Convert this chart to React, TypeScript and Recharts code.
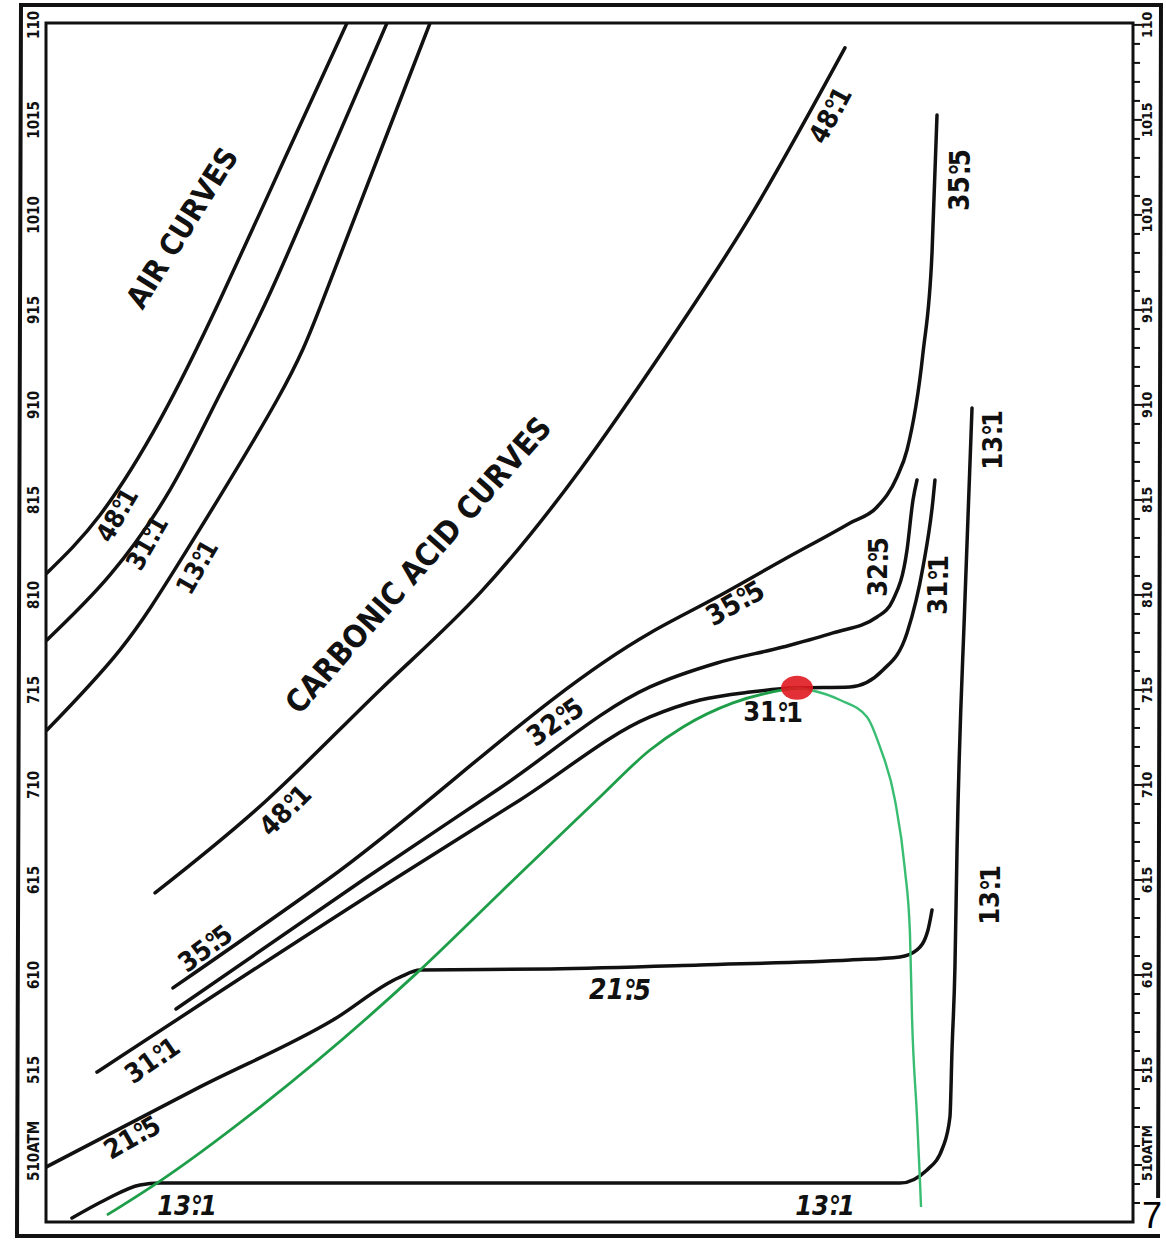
import { LineChart, Line, XAxis, YAxis, ReferenceArea, ReferenceDot } from 'recharts';

type Pt = [number, number];

// volume (arbitrary 0-100 across the frame) vs pressure in atmospheres
const air48_1: Pt[] = [[0.09, 81.16], [4.97, 84.21], [10.49, 89.21], [16.01, 95.53], [21.9, 102.89], [27.69, 110.1]];
const air31_1: Pt[] = [[0.09, 77.63], [5.89, 81.05], [11.41, 85.53], [15.73, 90.26], [20.33, 95.53], [25.85, 102.79], [31.37, 110.1]];
const air13_1: Pt[] = [[0.09, 72.89], [6.81, 77.11], [12.97, 82.37], [21.25, 90.26], [25.48, 95.53], [30.45, 102.89], [35.33, 110.1]];

const co2_48_1: Pt[] = [[10.03, 64.32], [20.33, 69.21], [30.73, 75.0], [39.93, 80.11], [49.13, 86.58], [57.13, 93.16], [65.04, 100.16], [73.5, 108.79]];
const co2_35_5: Pt[] = [[11.68, 59.32], [25.85, 65.0], [55.57, 78.0], [61.73, 79.89], [67.8, 81.84], [73.97, 83.79], [76.45, 84.63], [78.29, 86.21], [79.21, 87.63], [80.68, 92.74], [81.51, 98.0], [81.97, 105.26]];
const co2_32_5: Pt[] = [[11.96, 58.21], [29.16, 65.0], [41.77, 69.84], [55.57, 75.16], [61.73, 76.42], [67.8, 77.26], [72.4, 78.0], [76.45, 78.84], [77.92, 79.74], [79.21, 82.37], [79.76, 85.0], [80.13, 86.05]];
const co2_31_1: Pt[] = [[4.69, 54.89], [31.92, 65.0], [43.61, 69.21], [55.57, 73.58], [60.17, 74.47], [64.77, 74.89], [69.09, 75.11], [73.97, 75.16], [77.0, 76.05], [79.21, 78.0], [80.68, 81.47], [81.6, 85.0], [81.78, 86.05]];
const co2_21_5: Pt[] = [[0, 49.89], [14.17, 54.11], [26.4, 57.63], [32.57, 59.89], [34.41, 60.26], [46.37, 60.32], [60.17, 60.53], [73.97, 60.79], [78.56, 60.95], [80.13, 61.32], [81.14, 62.37], [81.51, 63.42]];
const co2_13_1: Pt[] = [[2.39, 47.21], [5.43, 48.16], [8.65, 48.95], [10.49, 49.05], [41.77, 49.05], [78.56, 49.05], [81.05, 49.74], [82.52, 50.95], [83.16, 52.53], [83.35, 56.05], [83.62, 60.42], [83.81, 66.58], [84.54, 79.74], [85.19, 89.84]];

// green saturation dome drawn in by hand
const domeLeft: Pt[] = [[5.61, 47.37], [10.21, 49.05], [19.69, 53.05], [34.13, 60.11], [41.77, 64.32], [50.97, 69.37], [55.57, 71.84], [58.6, 73.05], [63.2, 74.32], [67.8, 75.0], [69.09, 75.11]];
const domeRight: Pt[] = [[69.09, 75.11], [70.29, 75.0], [73.05, 74.47], [75.53, 73.58], [76.72, 72.0], [78.1, 69.21], [79.02, 65.53], [79.48, 62.21], [79.67, 57.79], [80.13, 52.53], [80.41, 49.05], [80.5, 47.79]];

const criticalPoint: Pt = [69.09, 75.11];

const pressureTicks = [50, 55, 60, 65, 70, 75, 80, 85, 90, 95, 100, 105, 110];
const pressureLabels = ['510ATM', '515', '610', '615', '710', '715', '810', '815', '910', '915', '1010', '1015', '110'];
const minorTicks = Array.from({ length: 63 }, (_, i) => 48 + i);

const notes = [
    { text: 'AIR CURVES', v: 12.51, p: 99.32, angle: -58, size: 30 },
    { text: 'CARBONIC ACID CURVES', v: 34.22, p: 81.58, angle: -48.5, size: 31 },
    { text: '48°1', v: 6.53, p: 84.21, angle: -60, size: 26 },
    { text: '31°1', v: 9.29, p: 82.74, angle: -60, size: 26 },
    { text: '13°1', v: 13.89, p: 81.47, angle: -60, size: 26 },
    { text: '48°1', v: 72.12, p: 105.26, angle: -62, size: 27 },
    { text: '48°1', v: 21.99, p: 68.68, angle: -45, size: 27 },
    { text: '35°5', v: 84.08, p: 101.84, angle: -90, size: 28 },
    { text: '35°5', v: 63.39, p: 79.58, angle: -30, size: 28 },
    { text: '32°5', v: 46.83, p: 73.32, angle: -35, size: 28 },
    { text: '32°5', v: 76.54, p: 81.47, angle: -90, size: 27 },
    { text: '31°1', v: 82.06, p: 80.53, angle: -90, size: 27 },
    { text: '31°1', v: 66.88, p: 73.84, angle: 0, size: 27 },
    { text: '35°5', v: 14.63, p: 61.42, angle: -37, size: 27 },
    { text: '31°1', v: 9.75, p: 55.53, angle: -35, size: 27 },
    { text: '21°5', v: 7.91, p: 51.47, angle: -30, size: 27 },
    { text: '21°5', v: 52.81, p: 59.21, angle: 0, size: 28, italic: true },
    { text: '13°1', v: 87.03, p: 88.16, angle: -90, size: 27 },
    { text: '13°1', v: 86.84, p: 64.21, angle: -90, size: 27 },
    { text: '13°1', v: 12.97, p: 47.89, angle: 0, size: 27, italic: true },
    { text: '13°1', v: 71.67, p: 47.89, angle: 0, size: 27, italic: true },
];

const FONT = "'Liberation Sans Narrow', 'DejaVu Sans Condensed', 'DejaVu Sans', sans-serif";
const INK = '#111';

const toRows = (pts: Pt[]) => pts.map(([v, p]) => ({ v, p }));

// smooth arcs get a natural spline, curves with corners keep monotone
const smoothCurves = [air48_1, air31_1, air13_1, co2_48_1];
const cornerCurves = [co2_35_5, co2_32_5, co2_31_1, co2_21_5];

// old style "48°·1": the decimal point sits under the degree ring
function degText(text: string) {
    const i = text.indexOf('°');
    if (i < 0) return text;
    return [
        text.slice(0, i),
        <tspan key="d">°</tspan>,
        <tspan key="p" dx="-0.42em">.</tspan>,
        <tspan key="r" dx="-0.04em">{text.slice(i + 1)}</tspan>
    ];
}

function Note({ cx, cy, text, angle, size, italic }: any) {
    return (
        <text
            x={cx}
            y={cy}
            transform={`rotate(${angle} ${cx} ${cy})`}
            textAnchor="middle"
            dominantBaseline="central"
            fontFamily={FONT}
            fontWeight="bold"
            fontStyle={italic ? 'italic' : 'normal'}
            fontSize={size}
            fill={INK}
        >
            {degText(text)}
        </text>
    );
}

function LeftTick({ y, payload }: any) {
    const idx = pressureTicks.indexOf(payload.value);
    const cx = 34;
    const isBase = payload.value === 50;
    const ly = isBase ? y + 16 : y;
    return (
        <text
            x={cx}
            y={ly}
            transform={`rotate(-90 ${cx} ${ly})`}
            textAnchor={isBase ? 'start' : 'middle'}
            dominantBaseline="central"
            fontFamily={FONT}
            fontWeight="bold"
            fontSize={15}
            fill={INK}
        >
            {pressureLabels[idx]}
        </text>
    );
}

function RightTick({ x, y, payload }: any) {
    const v = payload.value;
    const major = v % 5 === 0;
    const idx = pressureTicks.indexOf(v);
    const lx = x + 14;
    const isBase = v === 50;
    const ly = isBase ? y + 16 : y;
    return (
        <g>
            <line x1={x} x2={x + (major ? 9 : 7)} y1={y} y2={y} stroke={INK} strokeWidth={2} />
            {major && (
                <text
                    x={lx}
                    y={ly}
                    transform={`rotate(-90 ${lx} ${ly})`}
                    textAnchor={isBase ? 'start' : 'middle'}
                    dominantBaseline="central"
                    fontFamily={FONT}
                    fontWeight="bold"
                    fontSize={14}
                    fill={INK}
                >
                    {pressureLabels[idx]}
                </text>
            )}
        </g>
    );
}

export default function App() {
    return (
        <div style={{ position: 'absolute', left: 0, top: 0, width: 1166, height: 1242, background: '#fff' }}>
            <svg width={1166} height={1242} style={{ position: 'absolute', left: 0, top: 0 }}>
                <polygon points="21,5 1161,5 1158,1236 17,1236" fill="none" stroke={INK} strokeWidth={4} />
            </svg>
            <LineChart
                width={1166}
                height={1242}
                margin={{ top: 23, right: 6, bottom: 20, left: 22 }}
                style={{ position: 'absolute', left: 0, top: 0 }}
            >
                <XAxis dataKey="v" type="number" domain={[0, 100]} allowDataOverflow hide />
                <YAxis
                    yAxisId="left"
                    orientation="left"
                    type="number"
                    width={24}
                    domain={[47, 110.1]}
                    allowDataOverflow
                    ticks={pressureTicks}
                    interval={0}
                    axisLine={false}
                    tickLine={false}
                    tickSize={0}
                    tickMargin={0}
                    tick={LeftTick}
                />
                <YAxis
                    yAxisId="right"
                    orientation="right"
                    type="number"
                    width={27}
                    domain={[47, 110.1]}
                    allowDataOverflow
                    ticks={minorTicks}
                    interval={0}
                    axisLine={false}
                    tickLine={false}
                    tickSize={0}
                    tickMargin={0}
                    tick={RightTick}
                />
                <ReferenceArea
                    yAxisId="left"
                    x1={0}
                    x2={100}
                    y1={47}
                    y2={110.1}
                    fill="none"
                    stroke={INK}
                    strokeWidth={3}
                    ifOverflow="visible"
                />
                {smoothCurves.map((pts, i) => (
                    <Line
                        key={'s' + i}
                        yAxisId="left"
                        data={toRows(pts)}
                        dataKey="p"
                        type="natural"
                        stroke={INK}
                        strokeWidth={3.5}
                        strokeLinecap="round"
                        dot={false}
                        isAnimationActive={false}
                    />
                ))}
                {cornerCurves.map((pts, i) => (
                    <Line
                        key={'c' + i}
                        yAxisId="left"
                        data={toRows(pts)}
                        dataKey="p"
                        type="monotone"
                        stroke={INK}
                        strokeWidth={3.5}
                        strokeLinecap="round"
                        dot={false}
                        isAnimationActive={false}
                    />
                ))}
                <Line
                    yAxisId="right"
                    data={toRows(co2_13_1)}
                    dataKey="p"
                    type="monotone"
                    stroke={INK}
                    strokeWidth={3.5}
                    strokeLinecap="round"
                    dot={false}
                    isAnimationActive={false}
                />
                <Line
                    yAxisId="left"
                    data={toRows(domeLeft)}
                    dataKey="p"
                    type="monotone"
                    stroke="#1e9e48"
                    strokeWidth={2.8}
                    dot={false}
                    isAnimationActive={false}
                />
                <Line
                    yAxisId="left"
                    data={toRows(domeRight)}
                    dataKey="p"
                    type="monotone"
                    stroke="#39bd72"
                    strokeWidth={2.4}
                    dot={false}
                    isAnimationActive={false}
                />
                <ReferenceDot
                    yAxisId="left"
                    x={criticalPoint[0]}
                    y={criticalPoint[1]}
                    r={13}
                    shape={(s: any) => (
                        <ellipse cx={s.cx} cy={s.cy} rx={16} ry={12} fill="#e01820" fillOpacity={0.9} />
                    )}
                />
                {notes.map((n, i) => (
                    <ReferenceDot
                        key={'n' + i}
                        yAxisId="left"
                        x={n.v}
                        y={n.p}
                        r={1}
                        shape={(s: any) => <Note cx={s.cx} cy={s.cy} {...n} />}
                    />
                ))}
            </LineChart>
            <div
                style={{
                    position: 'absolute',
                    left: 1142,
                    top: 1198,
                    fontSize: 36,
                    lineHeight: 1,
                    background: '#fff',
                    fontFamily: "'Liberation Sans', Arial, sans-serif"
                }}
            >
                7
            </div>
        </div>
    );
}
